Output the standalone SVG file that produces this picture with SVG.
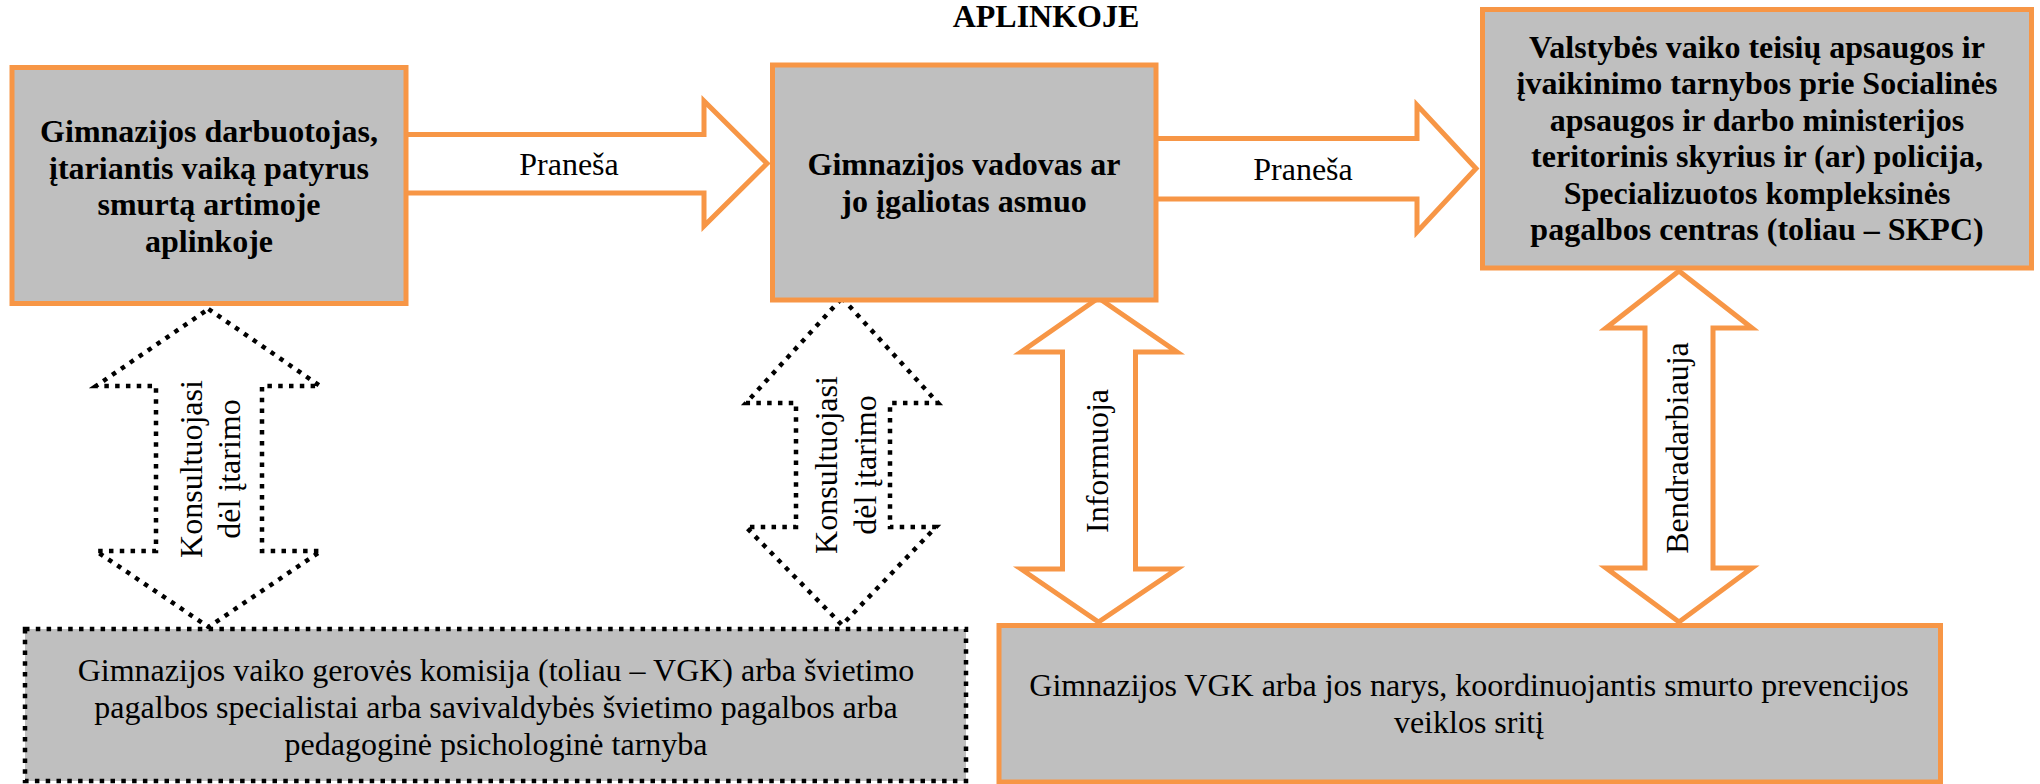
<svg xmlns="http://www.w3.org/2000/svg" width="2040" height="784" viewBox="0 0 2040 784">
<style>
.bg{fill:#ffffff}
.box{fill:#BFBFBF;stroke:#F79646;stroke-width:5}
.dbox{fill:#BFBFBF;stroke:#000;stroke-width:4.5;stroke-dasharray:4.5 6.3}
.oarrow{fill:#ffffff;stroke:#F79646;stroke-width:5;stroke-linejoin:miter}
.darrow{fill:#ffffff;stroke:#000;stroke-width:4.5;stroke-dasharray:4.5 6.3}
text{font-family:"Liberation Serif","Times New Roman",serif;font-size:32px;fill:#000;text-anchor:middle}
.b{font-weight:bold}
</style>
<rect class="bg" x="0" y="0" width="2040" height="784"/>
<text class="b" x="1046" y="27">APLINKOJE</text>
<g id="connectors">
  <path class="oarrow" d="M406,134.5 H704 V101 L767,163.5 L704,226 V193 H406"/>
  <text x="569" y="175">Praneša</text>
  <path class="oarrow" d="M1156,138.5 H1417 V105 L1476,168.5 L1417,232 V199 H1156"/>
  <text x="1303" y="180">Praneša</text>
  <path class="darrow" d="M208.5,309 L320,386 H262 V551 H321 L208.5,627 L96,551 H156 V386 H96 Z"/>
  <text transform="translate(202,469) rotate(-90)">Konsultuojasi</text>
  <text transform="translate(239.5,469) rotate(-90)">dėl įtarimo</text>
  <path class="darrow" d="M842,298 L938,403 H890 V527 H936 L842,625 L746,527 H796 V403 H746 Z"/>
  <text transform="translate(837,465) rotate(-90)">Konsultuojasi</text>
  <text transform="translate(876,465) rotate(-90)">dėl įtarimo</text>
  <path class="oarrow" d="M1098.5,298 L1177,352 H1135.5 V569 H1177 L1098.5,622 L1021,569 H1062.5 V352 H1021 Z"/>
  <text transform="translate(1108,461) rotate(-90)">Informuoja</text>
  <path class="oarrow" d="M1679,271 L1752,328 H1713 V568 H1752 L1679,622 L1606,568 H1645 V328 H1606 Z"/>
  <text transform="translate(1688,448) rotate(-90)">Bendradarbiauja</text>
</g>
<g id="node-darbuotojas">
  <rect class="box" x="12" y="67.5" width="394" height="236"/>
  <text class="b" x="209" y="142">Gimnazijos darbuotojas,</text>
  <text class="b" x="209" y="178.5">įtariantis vaiką patyrus</text>
  <text class="b" x="209" y="215">smurtą artimoje</text>
  <text class="b" x="209" y="251.5">aplinkoje</text>
</g>
<g id="node-vadovas">
  <rect class="box" x="772.5" y="65" width="383.5" height="235"/>
  <text class="b" x="964" y="175">Gimnazijos vadovas ar</text>
  <text class="b" x="964" y="211.5">jo įgaliotas asmuo</text>
</g>
<g id="node-tarnyba">
  <rect class="box" x="1482.5" y="9.5" width="549" height="258.5"/>
  <text class="b" x="1757" y="57.5">Valstybės vaiko teisių apsaugos ir</text>
  <text class="b" x="1757" y="94">įvaikinimo tarnybos prie Socialinės</text>
  <text class="b" x="1757" y="130.5">apsaugos ir darbo ministerijos</text>
  <text class="b" x="1757" y="167">teritorinis skyrius ir (ar) policija,</text>
  <text class="b" x="1757" y="203.5">Specializuotos kompleksinės</text>
  <text class="b" x="1757" y="240">pagalbos centras (toliau – SKPC)</text>
</g>
<g id="node-vgk">
  <rect class="dbox" x="25" y="629" width="941" height="152"/>
  <text x="496" y="680.5">Gimnazijos vaiko gerovės komisija (toliau – VGK) arba švietimo</text>
  <text x="496" y="717.5">pagalbos specialistai arba savivaldybės švietimo pagalbos arba</text>
  <text x="496" y="755">pedagoginė psichologinė tarnyba</text>
</g>
<g id="node-vgk-narys">
  <rect class="box" x="999" y="625.5" width="941.5" height="156.5"/>
  <text x="1469" y="695.5">Gimnazijos VGK arba jos narys, koordinuojantis smurto prevencijos</text>
  <text x="1469" y="732.5">veiklos sritį</text>
</g>
</svg>
